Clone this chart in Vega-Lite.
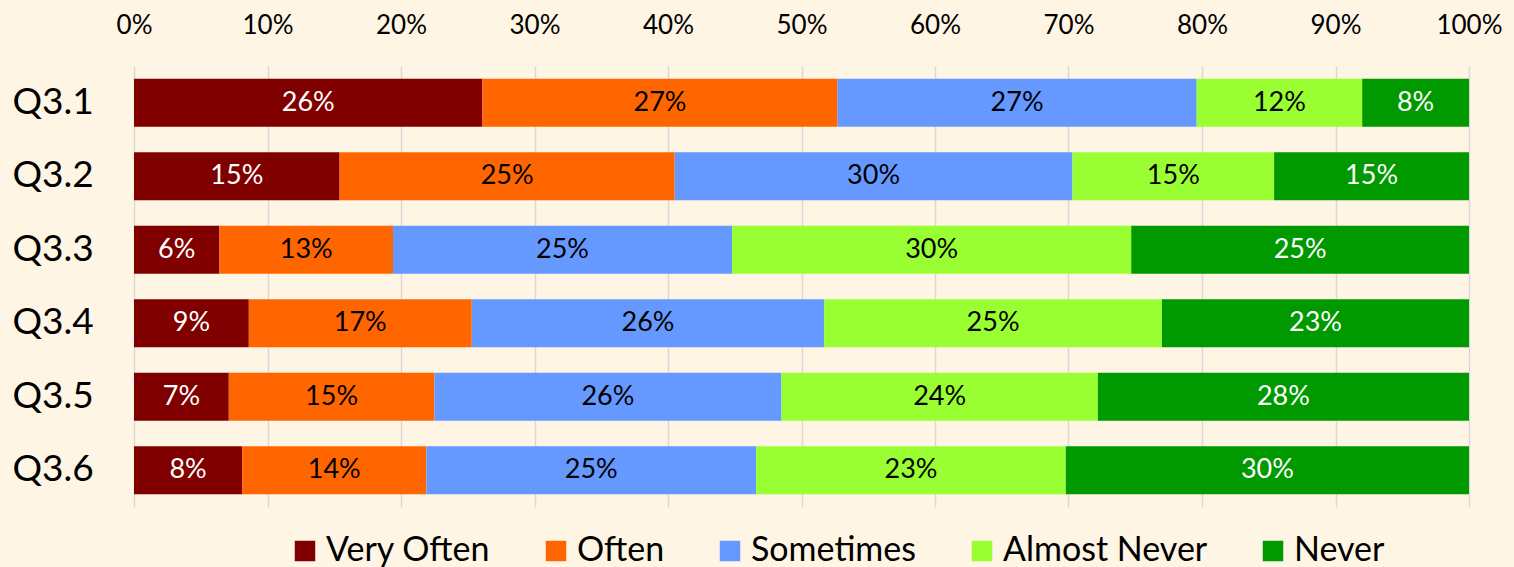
{
  "$schema": "https://vega.github.io/schema/vega-lite/v6.json",
  "width": 1335,
  "height": 441,
  "autosize": {"type": "none"},
  "padding": {"left": 134, "top": 66, "right": 45, "bottom": 60},
  "background": "#FEF5E4",
  "config": {
    "view": {"stroke": null},
    "font": "Lato",
    "axis": {"labelFont": "Lato", "labelColor": "#000000"},
    "legend": {"labelFont": "Lato", "labelColor": "#000000"}
  },
  "data": {
    "values": [
      {"q": "Q3.1", "cat": "Very Often", "rank": 1, "pct": 0.261},
      {"q": "Q3.1", "cat": "Often", "rank": 2, "pct": 0.266},
      {"q": "Q3.1", "cat": "Sometimes", "rank": 3, "pct": 0.269},
      {"q": "Q3.1", "cat": "Almost Never", "rank": 4, "pct": 0.124},
      {"q": "Q3.1", "cat": "Never", "rank": 5, "pct": 0.080},
      {"q": "Q3.2", "cat": "Very Often", "rank": 1, "pct": 0.154},
      {"q": "Q3.2", "cat": "Often", "rank": 2, "pct": 0.251},
      {"q": "Q3.2", "cat": "Sometimes", "rank": 3, "pct": 0.298},
      {"q": "Q3.2", "cat": "Almost Never", "rank": 4, "pct": 0.151},
      {"q": "Q3.2", "cat": "Never", "rank": 5, "pct": 0.146},
      {"q": "Q3.3", "cat": "Very Often", "rank": 1, "pct": 0.064},
      {"q": "Q3.3", "cat": "Often", "rank": 2, "pct": 0.130},
      {"q": "Q3.3", "cat": "Sometimes", "rank": 3, "pct": 0.254},
      {"q": "Q3.3", "cat": "Almost Never", "rank": 4, "pct": 0.299},
      {"q": "Q3.3", "cat": "Never", "rank": 5, "pct": 0.253},
      {"q": "Q3.4", "cat": "Very Often", "rank": 1, "pct": 0.086},
      {"q": "Q3.4", "cat": "Often", "rank": 2, "pct": 0.167},
      {"q": "Q3.4", "cat": "Sometimes", "rank": 3, "pct": 0.264},
      {"q": "Q3.4", "cat": "Almost Never", "rank": 4, "pct": 0.253},
      {"q": "Q3.4", "cat": "Never", "rank": 5, "pct": 0.230},
      {"q": "Q3.5", "cat": "Very Often", "rank": 1, "pct": 0.071},
      {"q": "Q3.5", "cat": "Often", "rank": 2, "pct": 0.154},
      {"q": "Q3.5", "cat": "Sometimes", "rank": 3, "pct": 0.260},
      {"q": "Q3.5", "cat": "Almost Never", "rank": 4, "pct": 0.237},
      {"q": "Q3.5", "cat": "Never", "rank": 5, "pct": 0.278},
      {"q": "Q3.6", "cat": "Very Often", "rank": 1, "pct": 0.081},
      {"q": "Q3.6", "cat": "Often", "rank": 2, "pct": 0.138},
      {"q": "Q3.6", "cat": "Sometimes", "rank": 3, "pct": 0.247},
      {"q": "Q3.6", "cat": "Almost Never", "rank": 4, "pct": 0.232},
      {"q": "Q3.6", "cat": "Never", "rank": 5, "pct": 0.302}
    ]
  },
  "transform": [
    {"stack": "pct", "groupby": ["q"], "sort": [{"field": "rank", "order": "ascending"}], "as": ["x0", "x1"]}
  ],
  "encoding": {
    "y": {
      "field": "q",
      "type": "nominal",
      "title": null,
      "scale": {"paddingInner": 0.347, "paddingOuter": 0.1735},
      "axis": {
        "domain": false,
        "ticks": false,
        "grid": false,
        "labelFontSize": 37,
        "labelAlign": "left",
        "labelPadding": 122
      }
    }
  },
  "layer": [
    {
      "mark": {"type": "bar"},
      "encoding": {
        "x": {
          "field": "x0",
          "type": "quantitative",
          "title": null,
          "scale": {"domain": [0, 1], "nice": false},
          "axis": {
            "orient": "top",
            "values": [0, 0.1, 0.2, 0.3, 0.4, 0.5, 0.6, 0.7, 0.8, 0.9, 1],
            "format": ".0%",
            "domain": false,
            "ticks": false,
            "grid": true,
            "gridColor": "#D9D9D9",
            "gridWidth": 1.5,
            "labelFontSize": 26,
            "labelPadding": 28,
            "labelFlush": false,
            "labelOverlap": false,
            "labelBound": false
          }
        },
        "x2": {"field": "x1"},
        "color": {
          "field": "cat",
          "type": "nominal",
          "sort": ["Very Often", "Often", "Sometimes", "Almost Never", "Never"],
          "scale": {
            "domain": ["Very Often", "Often", "Sometimes", "Almost Never", "Never"],
            "range": ["#800000", "#FF6600", "#6699FF", "#99FF33", "#009900"]
          },
          "legend": {
            "title": null,
            "orient": "none",
            "legendX": 154,
            "legendY": 468,
            "direction": "horizontal",
            "symbolType": "square",
            "symbolSize": 420,
            "symbolStrokeWidth": 0,
            "labelFontSize": 34,
            "labelLimit": 0,
            "labelOffset": 4,
            "columnPadding": 48,
            "padding": 0
          }
        }
      }
    },
    {
      "transform": [
        {"fold": ["x0", "x1"], "as": ["edge", "pos"]}
      ],
      "mark": {"type": "text", "fontSize": 27, "baseline": "middle", "align": "center"},
      "encoding": {
        "x": {"field": "pos", "type": "quantitative", "aggregate": "mean"},
        "detail": {"field": "cat", "type": "nominal"},
        "text": {"field": "pct", "type": "quantitative", "format": ".0%"},
        "color": {
          "condition": {"test": "datum.cat === 'Very Often' || datum.cat === 'Never'", "value": "#FFFFFF"},
          "value": "#000000"
        }
      }
    }
  ]
}
